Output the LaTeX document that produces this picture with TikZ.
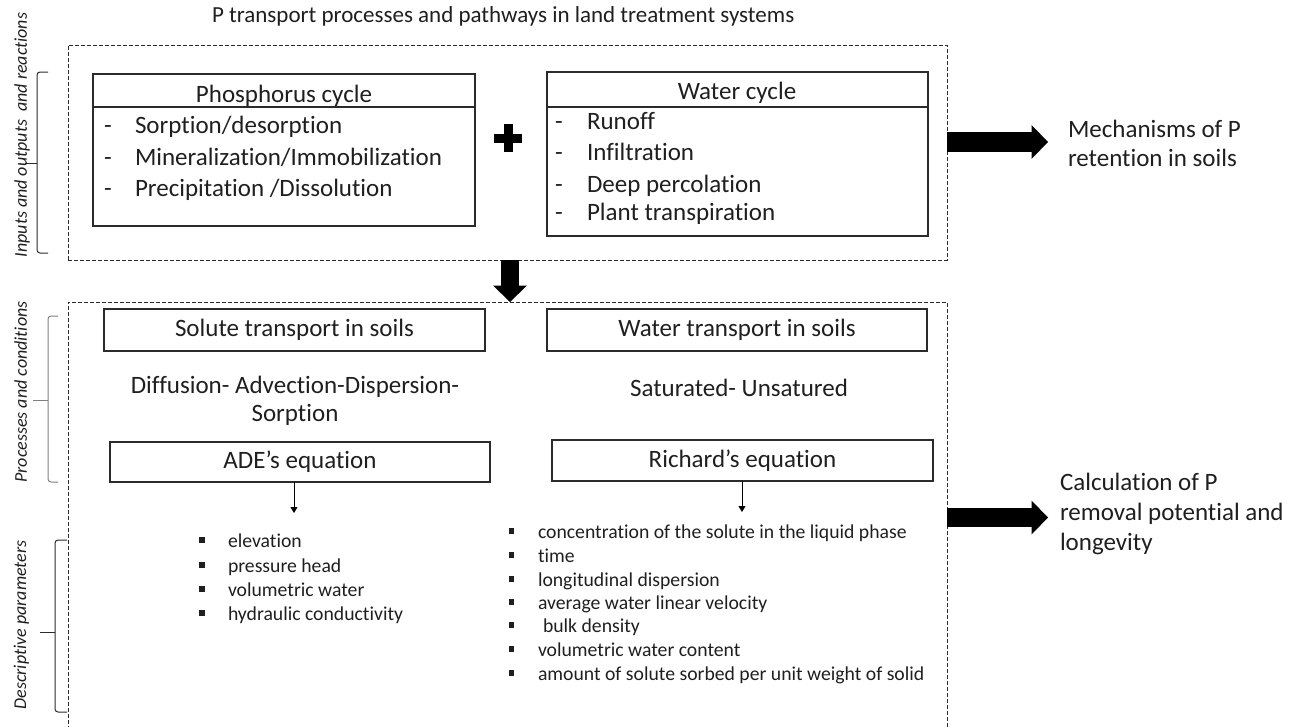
\documentclass[tikz,border=0pt]{standalone}
\usepackage{fontspec}
\setmainfont{Carlito}[RawFeature={-liga;-clig;-calt;-dlig;-rlig}]
\usetikzlibrary{arrows.meta}
\definecolor{txt}{HTML}{1F1F1F}
\definecolor{ln}{HTML}{2B2B2B}
\definecolor{brgray}{HTML}{7F7F7F}
\newcommand\FBig{\fontsize{25}{30}\selectfont}
\newcommand\FTitle{\fontsize{23}{28}\selectfont}
\newcommand\FSm{\fontsize{19.7}{23.7}\selectfont}
\newcommand\FSide{\fontsize{18}{21}\selectfont\itshape}
\begin{document}
\begin{tikzpicture}[x=1pt,y=-1pt,
  every node/.style={text=txt, inner sep=0pt, outer sep=0pt},
  dbox/.style={draw=ln, line width=0.8pt, dash pattern=on 4pt off 2pt},
  sbox/.style={draw=ln, line width=1.1pt},
  big/.style={font=\FBig},
  small/.style={font=\FSm},
  side/.style={font=\FSide, rotate=90, anchor=base},
  blk/.style={draw=black, line width=#1, -{Triangle[length=16.5pt,width=34pt,line width=0pt]}},
  thinarrow/.style={draw=black, line width=0.9pt, -{Triangle[length=6pt,width=7pt]}},
  brace/.style={draw=ln, line width=1pt, rounded corners=3pt},
]
\useasboundingbox (0,0) rectangle (1306,726);

% title
\node[font=\FTitle, anchor=base west] (title) at (212,22) {P transport processes and pathways in land treatment systems};

% upper dashed frame
\node[dbox, minimum width=879pt, minimum height=215pt] (topbox) at (507.5,152.5) {};
\node[sbox, minimum width=382pt, minimum height=152pt] (pbox) at (284,150) {};
\node[sbox, minimum width=381pt, minimum height=164pt] (wbox) at (737.5,154) {};
\coordinate (h1) at (0,107);
\draw[ln, line width=1.1pt] (pbox.west |- h1) -- (pbox.east |- h1);
\draw[ln, line width=1.1pt] (wbox.west |- h1) -- (wbox.east |- h1);

\node[big, anchor=base] (ptitle) at (284,102) {Phosphorus cycle};
\node[big, anchor=base] (wtitle) at (737,99) {Water cycle};

\node[big, anchor=base west] (pd1) at (104,133) {-};
\node[big, anchor=base west] (pd2) at (104,165) {-};
\node[big, anchor=base west] (pd3) at (104,196) {-};
\node[big, anchor=base west] (p1) at (135,133) {Sorption/desorption};
\node[big, anchor=base west] (p2) at (135,165) {Mineralization/Immobilization};
\node[big, anchor=base west] (p3) at (135,196) {Precipitation /Dissolution};

\node[big, anchor=base west] (wd1) at (555,129) {-};
\node[big, anchor=base west] (wd2) at (555,160) {-};
\node[big, anchor=base west] (wd3) at (555,192) {-};
\node[big, anchor=base west] (wd4) at (555,220) {-};
\node[big, anchor=base west] (w1) at (587,129) {Runoff};
\node[big, anchor=base west] (w2) at (587,160) {Infiltration};
\node[big, anchor=base west] (w3) at (587,192) {Deep percolation};
\node[big, anchor=base west] (w4) at (587,220) {Plant transpiration};

% plus sign
\fill[black] (494,133.5) rectangle (522,142.5);
\fill[black] (503.5,124) rectangle (512.5,152);

% right arrow 1
\coordinate (m1) at (1048,142);
\draw[blk=20pt] (topbox.east |- m1) -- (m1);
\node[big, anchor=base west] (mech1) at (1068,137) {Mechanisms of P};
\node[big, anchor=base west] (mech2) at (1068,166) {retention in soils};

% lower dashed frame
\node[dbox, minimum width=879pt, minimum height=458pt] (lowbox) at (507.5,531) {};

% down arrow
\coordinate (d1) at (510,0);
\draw[blk=18pt] (topbox.south -| d1) -- (lowbox.north -| d1);

\node[sbox, big, minimum width=381pt, minimum height=42pt] (solute) at (294.5,330) {Solute transport in soils};
\node[sbox, big, minimum width=380pt, minimum height=42pt] (wtrans) at (737,330) {Water transport in soils};

\node[big, anchor=base] (diff1) at (295,393) {Diffusion- Advection-Dispersion-};
\node[big, anchor=base] (diff2) at (295,421) {Sorption};
\node[big, anchor=base] (sat) at (739,396) {Saturated- Unsatured};

\node[sbox, big, minimum width=380pt, minimum height=40pt] (ade) at (300,462) {ADE’s equation};
\node[sbox, big, minimum width=381pt, minimum height=41pt] (rich) at (742.5,460.5) {Richard’s equation};

\coordinate (a1) at (294,513);
\draw[thinarrow] (ade.south -| a1) -- (a1);
\coordinate (a2) at (742,512);
\draw[thinarrow] (rich.south -| a2) -- (a2);

% ADE parameters
\foreach \y in {547,572,596,620} \fill[txt] (199,\y-10) rectangle ++(5.7,5.7);
\node[small, anchor=base west] (e1) at (228,547) {elevation};
\node[small, anchor=base west] (e2) at (228,572) {pressure head};
\node[small, anchor=base west] (e3) at (228,596) {volumetric water};
\node[small, anchor=base west] (e4) at (228,620) {hydraulic conductivity};

% Richard parameters
\foreach \y in {538,562,586,609,632,656,680} \fill[txt] (508.5,\y-10) rectangle ++(5.7,5.7);
\node[small, anchor=base west] (r1) at (538,538) {concentration of the solute in the liquid phase};
\node[small, anchor=base west] (r2) at (538,562) {time};
\node[small, anchor=base west] (r3) at (538,586) {longitudinal dispersion};
\node[small, anchor=base west] (r4) at (538,609) {average water linear velocity};
\node[small, anchor=base west] (r5) at (543,632) {bulk density};
\node[small, anchor=base west] (r6) at (538,656) {volumetric water content};
\node[small, anchor=base west] (r7) at (538,680) {amount of solute sorbed per unit weight of solid};

% right arrow 2
\coordinate (m2) at (1048,517.5);
\draw[blk=19pt] (lowbox.east |- m2) -- (m2);
\node[big, anchor=base west] (calc1) at (1060,490) {Calculation of P};
\node[big, anchor=base west] (calc2) at (1060,520) {removal potential and};
\node[big, anchor=base west] (calc3) at (1060,550) {longevity};

% braces
\draw[brace] (48,72) -- (37,72) -- (37,253) -- (48,253);
\draw[ln, line width=1pt] (37,163) -- (25,163);
\draw[brace, draw=brgray] (58,316) -- (48,316) -- (48,482) -- (58,482);
\draw[brgray, line width=1pt] (48,400) -- (33,400);
\draw[brace] (67,540) -- (55,540) -- (55,712) -- (67,712);
\draw[ln, line width=1pt] (55,632) -- (40,632);

% side labels
\node[side] (lab1) at (27,135) {Inputs and outputs\ \ and reactions};
\node[side] (lab2) at (27,392) {Processes and conditions};
\node[side] (lab3) at (26,625) {Descriptive parameters};
\end{tikzpicture}
\end{document}
